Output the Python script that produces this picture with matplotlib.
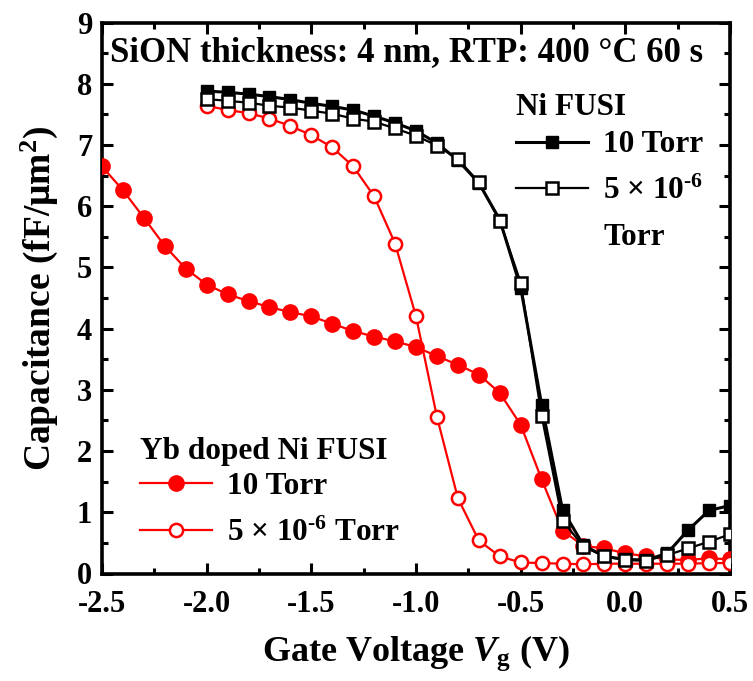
import matplotlib
matplotlib.use("Agg")
import matplotlib.pyplot as plt
from matplotlib.ticker import MultipleLocator
from matplotlib.lines import Line2D
import numpy as np

plt.rcParams['font.family'] = ['Liberation Serif', 'DejaVu Serif']
plt.rcParams['font.weight'] = 'bold'
plt.rcParams['axes.labelweight'] = 'bold'
plt.rcParams['mathtext.fontset'] = 'custom'
plt.rcParams['mathtext.rm'] = 'Liberation Serif:bold'
plt.rcParams['mathtext.it'] = 'Liberation Serif:bold:italic'
plt.rcParams['mathtext.bf'] = 'Liberation Serif:bold'

# Gate voltage (V)
vg_yb10 = [-2.5, -2.4, -2.3, -2.2, -2.1, -2.0, -1.9, -1.8, -1.7, -1.6, -1.5, -1.4, -1.3, -1.2, -1.1,
           -1.0, -0.9, -0.8, -0.7, -0.6, -0.5, -0.4, -0.3, -0.2, -0.1, 0.0, 0.1, 0.2, 0.3, 0.4, 0.5]
vg = [-2.0, -1.9, -1.8, -1.7, -1.6, -1.5, -1.4, -1.3, -1.2, -1.1, -1.0, -0.9, -0.8, -0.7, -0.6,
      -0.5, -0.4, -0.3, -0.2, -0.1, 0.0, 0.1, 0.2, 0.3, 0.4, 0.5]

# Capacitance (fF/um^2)
c_yb_10torr = [6.65, 6.26, 5.81, 5.35, 4.98, 4.72, 4.56, 4.45, 4.35, 4.27, 4.20, 4.08, 3.96, 3.87, 3.79,
               3.70, 3.55, 3.41, 3.25, 2.95, 2.43, 1.54, 0.70, 0.45, 0.41, 0.33, 0.28, 0.23, 0.22, 0.25, 0.23]
c_yb_5e6 = [7.64, 7.57, 7.52, 7.43, 7.31, 7.16, 6.96, 6.65, 6.16, 5.39, 4.20, 2.56, 1.23, 0.54, 0.28,
            0.18, 0.17, 0.16, 0.15, 0.16, 0.16, 0.16, 0.16, 0.16, 0.17, 0.17]
c_ni_10torr = [7.88, 7.86, 7.83, 7.79, 7.74, 7.68, 7.63, 7.57, 7.47, 7.36, 7.23, 7.03, 6.75, 6.38, 5.78,
               4.67, 2.76, 1.04, 0.46, 0.28, 0.23, 0.22, 0.33, 0.71, 1.03, 1.11]
c_ni_5e6 = [7.75, 7.72, 7.69, 7.64, 7.61, 7.56, 7.51, 7.43, 7.38, 7.27, 7.15, 6.99, 6.77, 6.39, 5.76,
            4.75, 2.58, 0.86, 0.44, 0.28, 0.22, 0.21, 0.30, 0.41, 0.52, 0.64]

xtick_vals = [-2.5, -2.0, -1.5, -1.0, -0.5, 0.0, 0.5]
xtick_labels = ['-2.5', '-2.0', '-1.5', '-1.0', '-0.5', '0.0', '0.5']

fig = plt.figure(figsize=(7.53, 6.81), dpi=100)
ax = fig.add_axes([102/753, 1-573.5/681, (730-102)/753, (573.5-22.5)/681])

red = '#ff0000'
l_yb10, = ax.plot(vg_yb10, c_yb_10torr, '-o', color=red, lw=1.6, ms=11, mfc=red, mec=red, zorder=3)
l_yb5, = ax.plot(vg, c_yb_5e6, '-o', color=red, lw=1.6, ms=9.5, mfc='white', mec=red, mew=1.8, zorder=3)
l_ni10, = ax.plot(vg, c_ni_10torr, '-s', color='black', lw=2.2, ms=9, mfc='black', mec='black', zorder=4)
l_ni5, = ax.plot(vg, c_ni_5e6, '-s', color='black', lw=1.6, ms=8.5, mfc='white', mec='black', mew=1.8, zorder=5)

ax.set_xlim(-2.5, 0.5)
ax.set_ylim(0, 9)
ax.set_xticks(xtick_vals)
ax.set_xticklabels(xtick_labels)
ax.xaxis.set_minor_locator(MultipleLocator(0.25))
ax.yaxis.set_major_locator(MultipleLocator(1))
ax.yaxis.set_minor_locator(MultipleLocator(0.5))
ax.tick_params(which='both', direction='in', top=True, right=True, width=2.2, labelsize=22)
ax.tick_params(axis='x', which='major', pad=12)
ax.tick_params(axis='y', which='major', pad=7)
ax.tick_params(which='major', length=8)
ax.tick_params(which='minor', length=4)
for sp in ax.spines.values():
    sp.set_linewidth(2.6)

ax.set_xlabel('Gate Voltage $\\mathit{V}_{\\mathrm{g}}$ (V)', fontsize=26, labelpad=10)
ax.set_ylabel('Capacitance (fF/\u03bcm$^{2}$)', fontsize=27, labelpad=12)

ax.text(0.013, 0.945, 'SiON thickness: 4 nm, RTP: 400 \u00b0C 60 s', transform=ax.transAxes,
        fontsize=25, va='center', ha='left')

blank = Line2D([], [], color='none')
ax.text(0.659, 0.846, 'Ni FUSI', transform=ax.transAxes, fontsize=22.5, va='center', ha='left')
leg1 = ax.legend([l_ni10, l_ni5, blank], ['10 Torr', '5 \u00d7 10$^{\\text{-6}}$', 'Torr'],
                 loc='upper left', bbox_to_anchor=(0.659, 0.804), frameon=False, fontsize=22.5,
                 handlelength=2.3, handletextpad=0.5,
                 borderpad=0, borderaxespad=0, labelspacing=0.55)
ax.add_artist(leg1)
ax.text(0.0605, 0.2223, 'Yb doped Ni FUSI', transform=ax.transAxes, fontsize=22.5, va='center', ha='left')
leg2 = ax.legend([l_yb10, l_yb5], ['10 Torr', '5 \u00d7 10$^{\\text{-6}}$ Torr'],
                 loc='upper left', bbox_to_anchor=(0.0605, 0.184), frameon=False, fontsize=22.5,
                 handlelength=2.3, handletextpad=0.5,
                 borderpad=0, borderaxespad=0, labelspacing=0.55)

fig.savefig('out.png', dpi=100)
